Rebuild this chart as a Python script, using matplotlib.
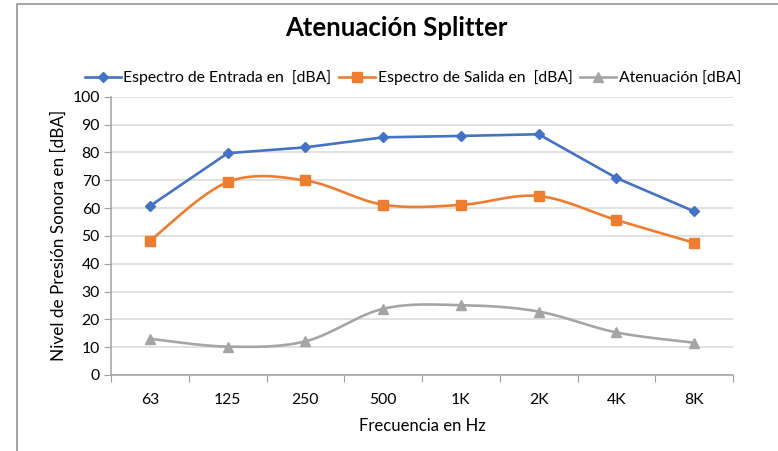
import numpy as np
import matplotlib
matplotlib.use("Agg")
import matplotlib.pyplot as plt
from matplotlib.patches import Rectangle
from matplotlib.lines import Line2D

categories = ["63", "125", "250", "500", "1K", "2K", "4K", "8K"]
entrada = [60.7, 79.7, 81.8, 85.4, 85.9, 86.5, 70.8, 58.8]
salida = [48.2, 69.3, 69.9, 61.2, 61.1, 64.3, 55.7, 47.5]
atenuacion = [13.0, 10.2, 12.1, 23.8, 25.1, 22.8, 15.3, 11.6]

plt.rcParams['font.family'] = ['Lato', 'DejaVu Sans']

BLUE = "#4472C4"
ORANGE = "#ED7D31"
GRAY = "#A5A5A5"


def smooth(x, y, n=40):
    x = np.asarray(x, float)
    y = np.asarray(y, float)
    P = np.column_stack([x, y])
    Pe = np.vstack([P[0], P, P[-1]])
    out = []
    t = np.linspace(0, 1, n)
    for i in range(len(P) - 1):
        p0, p3 = P[i], P[i + 1]
        p1 = p0 + (Pe[i + 2] - Pe[i]) / 6.0
        p2 = p3 - (Pe[i + 3] - Pe[i + 1]) / 6.0
        seg = ((1 - t) ** 3)[:, None] * p0 + (3 * (1 - t) ** 2 * t)[:, None] * p1 \
            + (3 * (1 - t) * t ** 2)[:, None] * p2 + (t ** 3)[:, None] * p3
        out.append(seg if i == 0 else seg[1:])
    s = np.vstack(out)
    return s[:, 0], s[:, 1]


W, H = 778, 451
fig = plt.figure(figsize=(W / 100, H / 100), dpi=100)
ax = fig.add_axes([111 / W, 1 - 375 / H, (733 - 111) / W, (375 - 96.7) / H])

x = np.arange(len(categories))
lw = 1.9
ax.plot(x, entrada, color=BLUE, lw=lw, marker="D", ms=5.5, zorder=3)
xs, ys = smooth(x, salida)
ax.plot(xs, ys, color=ORANGE, lw=lw, zorder=3)
ax.plot(x, salida, color=ORANGE, lw=0, marker="s", ms=6.5, zorder=4)
xs, ys = smooth(x, atenuacion)
ax.plot(xs, ys, color=GRAY, lw=lw, zorder=3)
ax.plot(x, atenuacion, color=GRAY, lw=0, marker="^", ms=7, zorder=4)

handles = [
    Line2D([], [], color=BLUE, lw=lw, marker="D", ms=5.5),
    Line2D([], [], color=ORANGE, lw=lw, marker="s", ms=6.5),
    Line2D([], [], color=GRAY, lw=lw, marker="^", ms=7),
]
labels = ["Espectro de Entrada en  [dBA]", "Espectro de Salida en  [dBA]", "Atenuación [dBA]"]
fig.legend(handles, labels, loc="center", bbox_to_anchor=(413 / W, 1 - 78 / H), ncol=3,
           frameon=False, fontsize=11.3, handlelength=2.3, columnspacing=0.5,
           handletextpad=0.15, borderaxespad=0)

ax.set_xlim(-0.5, len(categories) - 0.5)
ax.set_ylim(0, 100)
ax.set_yticks(np.arange(0, 101, 10))
ax.set_xticks(np.arange(-0.5, len(categories), 1))
ax.set_xticklabels([])
ax.set_xticks(x, minor=True)
ax.set_xticklabels(categories, minor=True)
ax.tick_params(axis="x", which="minor", length=0, pad=13, labelsize=11.3)
ax.tick_params(axis="x", which="major", length=5, color="#A0A0A0", direction="out")
ax.tick_params(axis="y", length=5, color="#A0A0A0", direction="out", labelsize=11.3, pad=3)
ax.grid(axis="y", color="#D9D9D9", lw=1.1)
ax.set_axisbelow(True)
for s in ["top", "right"]:
    ax.spines[s].set_visible(False)
for s in ["left", "bottom"]:
    ax.spines[s].set_color("#A0A0A0")
    ax.spines[s].set_linewidth(1.1)

ax.set_xlabel("Frecuencia en Hz", fontsize=12, labelpad=8)
ax.set_ylabel("Nivel de Presión Sonora en [dBA]", fontsize=12.3, labelpad=4)

fig.text(396 / W, 1 - 28 / H, "Atenuación Splitter", ha="center", va="center",
         fontsize=18.5, fontweight="bold")

fig.patches.append(Rectangle((17 / W, -0.1), 1.2, 1 - 3.5 / H + 0.1, transform=fig.transFigure,
                             fill=False, edgecolor="#8C8C8C", lw=1.1))

fig.savefig("out.png", dpi=100)
